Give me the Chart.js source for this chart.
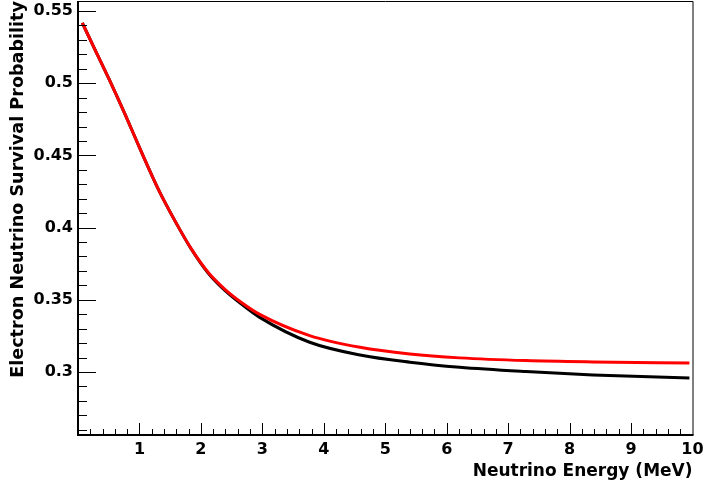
<!DOCTYPE html>
<html lang="en">
<head>
<meta charset="UTF-8">
<title>Electron Neutrino Survival Probability</title>
<style>
  html, body { margin: 0; padding: 0; background: #fff; }
  #wrap { width: 703px; height: 487px; }
</style>
<script src="https://cdn.jsdelivr.net/npm/chart.js"></script>
</head>
<body>
<div id="wrap"><canvas id="pee" width="703" height="487"></canvas></div>
<script>
// neutrino energy in MeV
const energy = [0.07, 0.28, 0.5, 0.77, 1.04, 1.31, 1.58, 1.85, 2.12, 2.39, 2.66, 2.95, 3.77, 4.59, 5.4, 6.21, 7.29, 8.38, 9.95];
// survival probability, upper (red) and lower (black) curve
const peeRed   = [0.5417, 0.5229, 0.5033, 0.4780, 0.4516, 0.4263, 0.4045, 0.3849, 0.3689, 0.3573, 0.3482, 0.3401, 0.3252, 0.3171, 0.3125, 0.3098, 0.3079, 0.3070, 0.3063];
const peeBlack = [0.5417, 0.5229, 0.5033, 0.4780, 0.4516, 0.4263, 0.4045, 0.3847, 0.3684, 0.3565, 0.3470, 0.3380, 0.3206, 0.3118, 0.3068, 0.3033, 0.3003, 0.2980, 0.2958];

const xTicks = [1, 2, 3, 4, 5, 6, 7, 8, 9, 10];
const xTickLabels = ['1', '2', '3', '4', '5', '6', '7', '8', '9', '10'];
const yTicks = [0.3, 0.35, 0.4, 0.45, 0.5, 0.55];
const yTickLabels = ['0.3', '0.35', '0.4', '0.45', '0.5', '0.55'];

function points(vals) {
    return energy.map((e, i) => ({ x: e, y: vals[i] }));
}

// ROOT style pad: frame plus inward major/minor ticks
const rootFrame = {
    id: 'rootFrame',
    afterDatasetsDraw(chart) {
        const { ctx, chartArea: a, scales: { x, y } } = chart;
        ctx.save();
        ctx.strokeStyle = '#000';
        ctx.lineWidth = 1;
        ctx.beginPath();
        for (let k = 26; k <= 55; k++) {
            const py = Math.round(y.getPixelForValue(k / 100)) + 0.5;
            const len = k % 5 === 0 ? 18 : 9;
            ctx.moveTo(a.left, py);
            ctx.lineTo(a.left + len, py);
        }
        for (let k = 1; k < 50; k++) {
            const px = Math.round(x.getPixelForValue(k / 5)) + 0.5;
            const len = k % 5 === 0 ? 12 : 6;
            ctx.moveTo(px, a.bottom);
            ctx.lineTo(px, a.bottom - len);
        }
        ctx.stroke();

        // top and right edges
        ctx.beginPath();
        ctx.moveTo(a.left, a.top + 0.5);
        ctx.lineTo(a.right + 0.5, a.top + 0.5);
        ctx.lineTo(a.right + 0.5, a.bottom);
        ctx.stroke();

        // axes
        ctx.lineWidth = 2;
        ctx.beginPath();
        ctx.moveTo(a.left, a.top);
        ctx.lineTo(a.left, a.bottom);
        ctx.lineTo(a.right + 1, a.bottom);
        ctx.stroke();
        ctx.restore();
    }
};

Chart.defaults.font.family = "'DejaVu Sans', sans-serif";
Chart.defaults.font.weight = 'bold';
Chart.defaults.color = '#000';

new Chart(document.getElementById('pee'), {
    type: 'line',
    data: {
        datasets: [
            {
                label: 'Pee upper',
                data: points(peeRed),
                borderColor: '#ff0000',
                borderWidth: 3,
                pointRadius: 0,
                cubicInterpolationMode: 'monotone',
                fill: false
            },
            {
                label: 'Pee lower',
                data: points(peeBlack),
                borderColor: '#000000',
                borderWidth: 3,
                pointRadius: 0,
                cubicInterpolationMode: 'monotone',
                fill: false
            }
        ]
    },
    options: {
        responsive: false,
        animation: false,
        devicePixelRatio: 1,
        layout: { padding: { top: 1, right: 10.5, left: 0, bottom: 0 } },
        plugins: {
            legend: { display: false },
            tooltip: { enabled: false }
        },
        scales: {
            x: {
                type: 'linear',
                min: 0,
                max: 10,
                grid: { display: false, drawTicks: false },
                border: { display: false },
                afterBuildTicks: s => { s.ticks = xTicks.map(v => ({ value: v })); },
                afterFit: s => { s.height = 52; s.paddingLeft = 0; s.paddingRight = 0; },
                ticks: {
                    autoSkip: false,
                    maxRotation: 0,
                    padding: 5,
                    font: { size: 16, weight: 'bold' },
                    callback: (v) => xTickLabels[xTicks.indexOf(v)]
                },
                title: {
                    display: true,
                    text: 'Neutrino Energy (MeV)',
                    align: 'end',
                    font: { size: 17, weight: 'bold' },
                    padding: { top: 0, bottom: 5 }
                }
            },
            y: {
                type: 'linear',
                min: 0.2564,
                max: 0.5569,
                grid: { display: false, drawTicks: false },
                border: { display: false },
                afterBuildTicks: s => { s.ticks = yTicks.map(v => ({ value: v })); },
                afterFit: s => { s.width = 78; s.paddingTop = 0; s.paddingBottom = 0; },
                ticks: {
                    autoSkip: false,
                    padding: 5,
                    font: { size: 16, weight: 'bold' },
                    callback: (v) => yTickLabels[yTicks.indexOf(v)]
                },
                title: {
                    display: true,
                    text: 'Electron Neutrino Survival Probability',
                    align: 'end',
                    font: { size: 17.6, weight: 'bold' },
                    padding: { top: 8, bottom: 0 }
                }
            }
        }
    },
    plugins: [rootFrame]
});
</script>
</body>
</html>
